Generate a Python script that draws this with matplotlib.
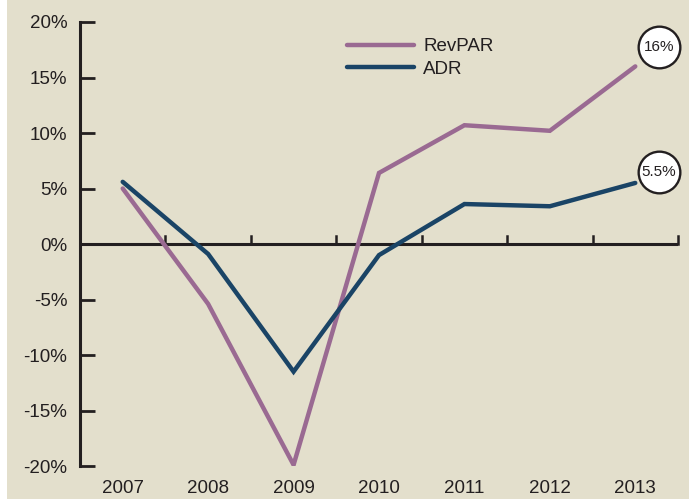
import matplotlib.pyplot as plt
from matplotlib.patches import Rectangle
from matplotlib.transforms import ScaledTranslation

plt.rcParams['font.family'] = ['Liberation Sans', 'DejaVu Sans']

years = ['2007', '2008', '2009', '2010', '2011', '2012', '2013']
revpar = [5.0, -5.4, -19.9, 6.4, 10.7, 10.2, 16.0]
adr = [5.6, -0.9, -11.5, -1.0, 3.6, 3.4, 5.5]
y_ticks = [-20, -15, -10, -5, 0, 5, 10, 15, 20]
end_labels = ['16%', '5.5%']

bg = '#E3DFCC'
c_revpar = '#9A6A92'
c_adr = '#1A4466'
ink = '#231F20'


def main():
    fig = plt.figure(figsize=(6.89, 4.99), dpi=100, facecolor=bg)
    # thin white strip on the left edge of the original
    fig.patches.append(Rectangle((0, 0), 7 / 689, 1, transform=fig.transFigure,
                                 facecolor='white', edgecolor='none', zorder=-1))
    ax = fig.add_axes([80 / 689, 1 - 466 / 499, 598 / 689, 444 / 499])
    ax.set_facecolor(bg)

    x = list(range(len(years)))
    ax.plot(x, revpar, color=c_revpar, lw=3.2, solid_capstyle='round',
            solid_joinstyle='miter', label='RevPAR', zorder=3)
    ax.plot(x, adr, color=c_adr, lw=3.2, solid_capstyle='round',
            solid_joinstyle='miter', label='ADR', zorder=3)

    ax.set_xlim(-0.5, len(years) - 0.5)
    ax.set_ylim(-20, 20)

    # zero line with category boundary ticks pointing up
    ax.axhline(0, color=ink, lw=2.2, zorder=2)
    for b in range(1, len(years) + 1):
        ax.plot([b - 0.5, b - 0.5], [0, 0.75], color=ink, lw=1.8, zorder=2,
                clip_on=False)

    for s in ['top', 'right', 'bottom']:
        ax.spines[s].set_visible(False)
    ax.spines['left'].set_color(ink)
    ax.spines['left'].set_linewidth(2.2)

    ax.set_yticks(y_ticks)
    ax.set_yticklabels([f'{v}%' for v in y_ticks])
    ax.tick_params(axis='y', direction='in', length=11, width=2, color=ink,
                   labelsize=13.5, labelcolor=ink, pad=9)
    ax.set_xticks(x)
    ax.set_xticklabels(years)
    ax.tick_params(axis='x', length=0, labelsize=13.5, labelcolor=ink, pad=10)

    leg = ax.legend(loc='upper left', bbox_to_anchor=(0.43, 0.985), frameon=False,
                    handlelength=3.6, handletextpad=0.5, labelspacing=0.3,
                    fontsize=13.5, borderpad=0)
    for t in leg.get_texts():
        t.set_color(ink)

    # circled end values
    offsets = [(17, 14), (17, 8)]
    for series, lab, off in zip([revpar, adr], end_labels, offsets):
        ax.annotate(lab, xy=(x[-1], series[-1]), xytext=off, textcoords='offset points',
                    ha='center', va='center', fontsize=11, color=ink, zorder=5,
                    annotation_clip=False)
        trans = ax.transData + ScaledTranslation(off[0] / 72, off[1] / 72,
                                                 fig.dpi_scale_trans)
        ax.scatter([x[-1]], [series[-1]], s=900, facecolor='white', edgecolor=ink,
                   linewidth=1.7, transform=trans, zorder=4, clip_on=False)

    fig.savefig('out.png', dpi=100, facecolor=bg)


if __name__ == '__main__':
    main()
